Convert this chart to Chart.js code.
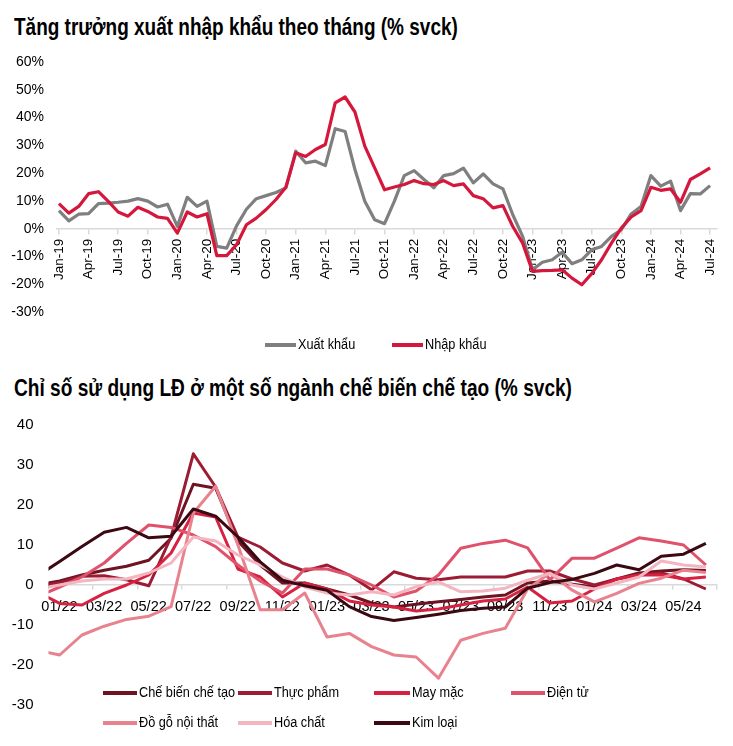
<!DOCTYPE html>
<html><head><meta charset="utf-8">
<script src="https://cdn.jsdelivr.net/npm/chart.js@4"></script>
<style>
body{margin:0;width:733px;height:746px;background:#fff;position:relative;overflow:hidden;font-family:"Liberation Sans",Arial,sans-serif;color:#000}
.title{position:absolute;left:14px;font-weight:bold;font-size:23px;line-height:26px;white-space:nowrap;transform-origin:0 0}
canvas{position:absolute;left:0}
.sw{position:absolute;height:4px}
.lt{position:absolute;font-size:15.5px;line-height:18px;white-space:nowrap;transform:scaleX(0.82);transform-origin:0 0}
</style></head><body>
<div class="title" id="t1" style="top:14px">Tăng trưởng xuất nhập khẩu theo tháng (% svck)</div>
<canvas id="c1" width="733" height="360" style="top:0"></canvas>
<div class="title" id="t2" style="top:375px">Chỉ số sử dụng LĐ ở một số ngành chế biến chế tạo (% svck)</div>
<canvas id="c2" width="733" height="346" style="top:400px"></canvas>
<div id="legends"></div>
<script>
// ---------- Chart 1 data ----------
const months1 = ['Jan-19','Feb-19','Mar-19','Apr-19','May-19','Jun-19','Jul-19','Aug-19','Sep-19','Oct-19','Nov-19','Dec-19',
'Jan-20','Feb-20','Mar-20','Apr-20','May-20','Jun-20','Jul-20','Aug-20','Sep-20','Oct-20','Nov-20','Dec-20',
'Jan-21','Feb-21','Mar-21','Apr-21','May-21','Jun-21','Jul-21','Aug-21','Sep-21','Oct-21','Nov-21','Dec-21',
'Jan-22','Feb-22','Mar-22','Apr-22','May-22','Jun-22','Jul-22','Aug-22','Sep-22','Oct-22','Nov-22','Dec-22',
'Jan-23','Feb-23','Mar-23','Apr-23','May-23','Jun-23','Jul-23','Aug-23','Sep-23','Oct-23','Nov-23','Dec-23',
'Jan-24','Feb-24','Mar-24','Apr-24','May-24','Jun-24','Jul-24'];
const exportGrowth = [6.5,2.8,5.2,5.4,9,9.2,9.5,9.9,10.8,9.9,7.8,8.8,
0.8,11.3,8,9.9,-6.4,-7,1,7,10.8,11.9,13,14.7,
27.9,23.7,24.3,22.7,36,35,21.3,9.9,3.2,1.8,9.9,19.1,
20.9,17.7,14.7,19.1,19.8,21.8,16.5,19.7,16.1,14.3,5,-2.8,
-14.8,-12.1,-11.2,-8.5,-12.6,-11.2,-7.6,-6.4,-2.8,-0.4,5.3,8,
19.1,15.3,17.1,6.5,12.6,12.5,15.5];
const importGrowth = [9,5.6,8,12.6,13.3,9.8,6,4.5,7.7,6.2,4.2,3.7,
-1.6,6,4.2,5.4,-9.7,-9.7,-5.8,1.4,3.8,6.9,10.5,14.9,
27.3,26,28.5,30.3,45.3,47.4,42,29.7,21.9,14,15,15.9,
17.3,16.2,15.9,17.3,15.5,16.1,11.9,10.8,7.5,8.3,0.8,-5.2,
-15.4,-15.1,-15,-14.8,-17.8,-20.2,-16.2,-11.2,-5.2,0.2,4.2,6.5,
14.9,13.8,14.3,9.5,17.7,19.7,21.9];
const series1Names = ['Xuất khẩu','Nhập khẩu'];
const yTicks1 = [-30,-20,-10,0,10,20,30,40,50,60];

// ---------- Chart 2 data ----------
const months2 = ['12/21','01/22','02/22','03/22','04/22','05/22','06/22','07/22','08/22','09/22','10/22','11/22',
'12/22','01/23','02/23','03/23','04/23','05/23','06/23','07/23','08/23','09/23','10/23','11/23',
'12/23','01/24','02/24','03/24','04/24','05/24','06/24'];
const cheBienCheTao = [0,1.0,2.5,3.7,4.7,6.2,11.7,25.2,24.2,11,5,0.5,0.5,-1,-2.5,-4.5,-5.5,-4.8,-4.2,-3.6,-3,-2.5,0.5,1,0.2,-0.5,1.5,3,3.5,3.8,3.6];
const thucPham = [-0.5,0.6,2.2,2.3,1.3,-0.2,12,32.8,24.5,12,9.5,5.5,3.5,5,2.5,-1.2,3.3,1.7,1.3,2,2,2,3.5,3.5,1.5,0,1.5,2.5,3,1.5,-1];
const mayMac = [-1.7,-4.6,-5,-2.1,0,2.5,8,18,17,4,2,-3,0.5,-1,-4,-5,-5.5,-6.5,-6,-5,-4,-3.5,-0.5,-4.5,-4,-1,1.5,2.5,2.5,1.5,2];
const dienTu = [-2.9,-0.5,2,5.5,10.4,15,14.4,12.5,9.6,5,1,-2,4,4,2.5,0,-3,-1.5,2.5,9.2,10.4,11.2,9.3,1.3,6.7,6.7,9.2,11.8,11,10,5];
const doGoNoiThat = [-16.3,-17.5,-12.5,-10.3,-8.6,-7.8,-5.4,18,24.7,10,-6.2,-6.2,-2,-13,-12.1,-15.4,-17.5,-18,-23.3,-13.8,-12.1,-10.8,-1,3,-1.3,-4.2,-2.1,0.4,1.7,3.7,3.1];
const hoaChat = [-1,0,1,1.5,1.5,3,5.5,12,11,7.5,5,2,-0.5,-2,-2.5,-1.7,-2.5,-0.4,0.8,-1.7,-1.5,-0.8,1.2,2.9,0,-1,0.5,2,6,5,4.5];
const kimLoai = [2.2,5.9,9.6,13.2,14.4,11.8,12.2,19,17.2,12,5.8,1.2,-0.2,-1.3,-5.4,-7.9,-8.9,-8.1,-7.3,-6.4,-5.8,-5.5,-0.8,0.6,1.4,2.9,5,3.8,7.2,7.7,10.4];
const series2Names = ['Chế biến chế tạo','Thực phẩm','May mặc','Điện tử','Đồ gỗ nội thất','Hóa chất','Kim loại'];
const yTicks2 = [-30,-20,-10,0,10,20,30,40];

// ---------- styles ----------
const FONT = '"Liberation Sans",Arial,sans-serif';
const colors1 = ['#7f7f7f','#d5173c'];
const colors2 = ['#6d1322','#9c1c33','#d62141','#e0516b','#e8828f','#f3b6c0','#3b0912'];
const axisGray = '#d9d9d9';

const toXY = arr => arr.map((v,i)=>({x:i,y:v}));

// ---------- chart 1 ----------
new Chart(document.getElementById('c1'), {
  type:'line',
  data:{datasets:[
    {label:series1Names[0],data:toXY(exportGrowth),borderColor:colors1[0],borderWidth:3.2,pointRadius:0,tension:0,order:2,borderJoinStyle:'round'},
    {label:series1Names[1],data:toXY(importGrowth),borderColor:colors1[1],borderWidth:3.2,pointRadius:0,tension:0,order:1,borderJoinStyle:'round'}
  ]},
  options:{
    responsive:false,animation:false,devicePixelRatio:1,
    layout:{padding:{top:62,bottom:48,left:0,right:16}},
    plugins:{legend:{display:false},tooltip:{enabled:false}},
    scales:{
      x:{type:'linear',position:{y:0},min:-0.2,max:66.7,
        afterBuildTicks:s=>{s.ticks=months1.map((m,i)=>i).filter(i=>i%3===0).map(v=>({value:v}));},
        ticks:{autoSkip:false,minRotation:90,maxRotation:90,padding:5,color:'#000',font:{family:FONT,size:13.5},
          callback:v=>months1[v]||''},
        grid:{display:true,drawOnChartArea:false,drawTicks:true,tickLength:5,color:axisGray,lineWidth:1.5},
        border:{display:true,color:axisGray,width:1.5}},
      y:{type:'linear',min:-30,max:60,
        afterBuildTicks:s=>{s.ticks=yTicks1.map(v=>({value:v}));},
        afterFit:s=>{s.width=57;},
        ticks:{padding:13,color:'#000',font:{family:FONT,size:14},callback:v=>v+'%'},
        grid:{display:false,drawTicks:false},border:{display:false}}
    }
  }
});

// ---------- chart 2 ----------
const data2 = [cheBienCheTao,thucPham,mayMac,dienTu,doGoNoiThat,hoaChat,kimLoai];
new Chart(document.getElementById('c2'), {
  type:'line',
  data:{datasets:data2.map((arr,k)=>({label:series2Names[k],data:toXY(arr),borderColor:colors2[k],borderWidth:3,
    pointRadius:0,tension:0,order:7-k,borderJoinStyle:'round'}))},
  options:{
    responsive:false,animation:false,devicePixelRatio:1,
    layout:{padding:{top:25,bottom:41,left:0,right:16}},
    plugins:{legend:{display:false},tooltip:{enabled:false}},
    scales:{
      x:{type:'linear',position:{y:0},min:0.5,max:30.5,
        afterBuildTicks:s=>{const t=[];for(let v=0.5;v<=30.5;v+=2)t.push({value:v});s.ticks=t;},
        ticks:{autoSkip:false,maxRotation:0,minRotation:0,padding:9,labelOffset:11,color:'#000',font:{family:FONT,size:14.5},
          callback:v=>months2[v+0.5]||''},
        grid:{display:true,drawOnChartArea:false,drawTicks:true,tickLength:4,color:axisGray,lineWidth:1.5},
        border:{display:true,color:axisGray,width:1.5}},
      y:{type:'linear',min:-30,max:40,
        afterBuildTicks:s=>{s.ticks=yTicks2.map(v=>({value:v}));},
        afterFit:s=>{s.width=48.5;},
        ticks:{padding:15,color:'#000',font:{family:FONT,size:15},callback:v=>String(v)},
        grid:{display:false,drawTicks:false},border:{display:false}}
    }
  }
});

// ---------- fit titles to reference widths ----------
[['t1',444],['t2',558]].forEach(([id,w])=>{
  const el=document.getElementById(id);
  el.style.transform='scaleX('+(w/el.offsetWidth)+')';
});

// ---------- HTML legends ----------
const legItems = [
  {name:series1Names[0],color:colors1[0],x:265,y:345,w:31},
  {name:series1Names[1],color:colors1[1],x:392,y:345,w:31},
  {name:series2Names[0],color:colors2[0],x:103,y:693,w:34},
  {name:series2Names[1],color:colors2[1],x:238,y:693,w:34},
  {name:series2Names[2],color:colors2[2],x:374,y:693,w:36},
  {name:series2Names[3],color:colors2[3],x:511,y:693,w:34},
  {name:series2Names[4],color:colors2[4],x:103,y:723,w:34},
  {name:series2Names[5],color:colors2[5],x:238,y:723,w:34},
  {name:series2Names[6],color:colors2[6],x:374,y:723,w:36}
];
const host=document.getElementById('legends');
legItems.forEach(it=>{
  const s=document.createElement('div');s.className='sw';
  s.style.left=it.x+'px';s.style.top=(it.y-2)+'px';s.style.width=it.w+'px';s.style.background=it.color;
  const t=document.createElement('div');t.className='lt';
  t.style.left=(it.x+it.w+2)+'px';t.style.top=(it.y-10)+'px';t.textContent=it.name;
  host.appendChild(s);host.appendChild(t);
});
</script>
</body></html>
